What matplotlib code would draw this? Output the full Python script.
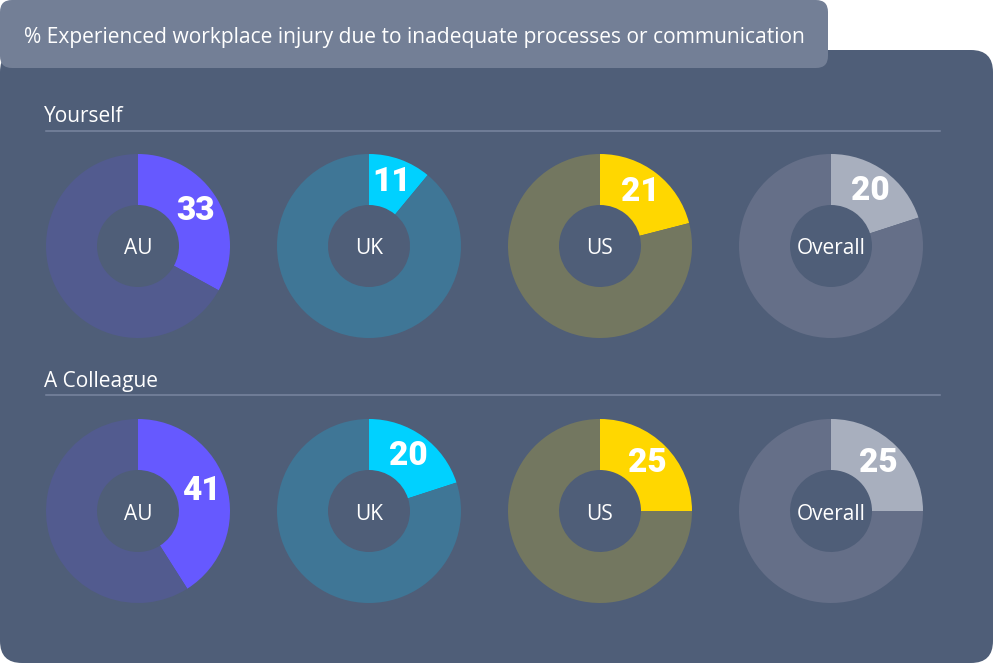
import matplotlib
matplotlib.use("Agg")
import matplotlib.pyplot as plt
from matplotlib.patches import FancyBboxPatch
import numpy as np

# ---- data ----
title = "% Experienced workplace injury due to inadequate processes or communication"
groups = ["Yourself", "A Colleague"]
regions = ["AU", "UK", "US", "Overall"]
yourself = [33, 11, 21, 20]
colleague = [41, 20, 25, 25]
values = [yourself, colleague]

hi_colors = ["#6659FF", "#00D1FF", "#FFD700", "#A8AFBE"]
lo_colors = ["#525B8F", "#3F7696", "#737760", "#656F88"]

W, H = 993, 663
fig = plt.figure(figsize=(W / 100, H / 100), dpi=100)
fig.patch.set_facecolor("white")
ax = fig.add_axes([0, 0, 1, 1])

def Y(py):
    return H - py

# panel
panel = FancyBboxPatch((0, 0), W, Y(50), boxstyle="round,pad=0,rounding_size=22",
                       facecolor="#4F5E78", edgecolor="none", zorder=0)
ax.add_patch(panel)
# title box
tbox = FancyBboxPatch((0, Y(68)), 828, 68, boxstyle="round,pad=0,rounding_size=12",
                      facecolor="#737F96", edgecolor="none", zorder=1)
ax.add_patch(tbox)
ax.text(24, Y(37), title, fontsize=15.1, family="Open Sans", color="white",
        va="center", ha="left", zorder=2)

centers_x = [138, 369, 600, 831]
centers_y = [246, 511]
label_y = [116, 381]
line_y = [131, 395]
r_out, r_in = 92, 41

for gi, grp in enumerate(groups):
    ax.text(44, Y(label_y[gi]), grp, fontsize=15, family="Open Sans", color="white",
            va="center", ha="left", zorder=2)
    ax.plot([46, 940], [Y(line_y[gi])] * 2, color="#7A86A0", lw=1.1, zorder=2)
    for ri, reg in enumerate(regions):
        v = values[gi][ri]
        cx, cy = centers_x[ri], Y(centers_y[gi])
        ax.pie([v, 100 - v], colors=[hi_colors[ri], lo_colors[ri]], startangle=90,
               counterclock=False, radius=r_out, center=(cx, cy), frame=True,
               wedgeprops=dict(width=r_out - r_in, edgecolor="none", linewidth=0))
        ax.text(cx, cy - 3, reg, fontsize=15, family="Open Sans", color="white",
                ha="center", va="center", zorder=5)
        mid = np.deg2rad(90 - v / 100 * 360 / 2)
        rr = (r_out + r_in) / 2
        ax.text(cx + rr * np.cos(mid), cy + rr * np.sin(mid) + 1, str(v), fontsize=24,
                family="Roboto", fontweight="black", color="white",
                ha="center", va="center", zorder=5)

ax.set_xlim(0, W)
ax.set_ylim(0, H)
ax.set_aspect("auto")
ax.axis("off")
fig.savefig("out.png", dpi=100, facecolor="white")
